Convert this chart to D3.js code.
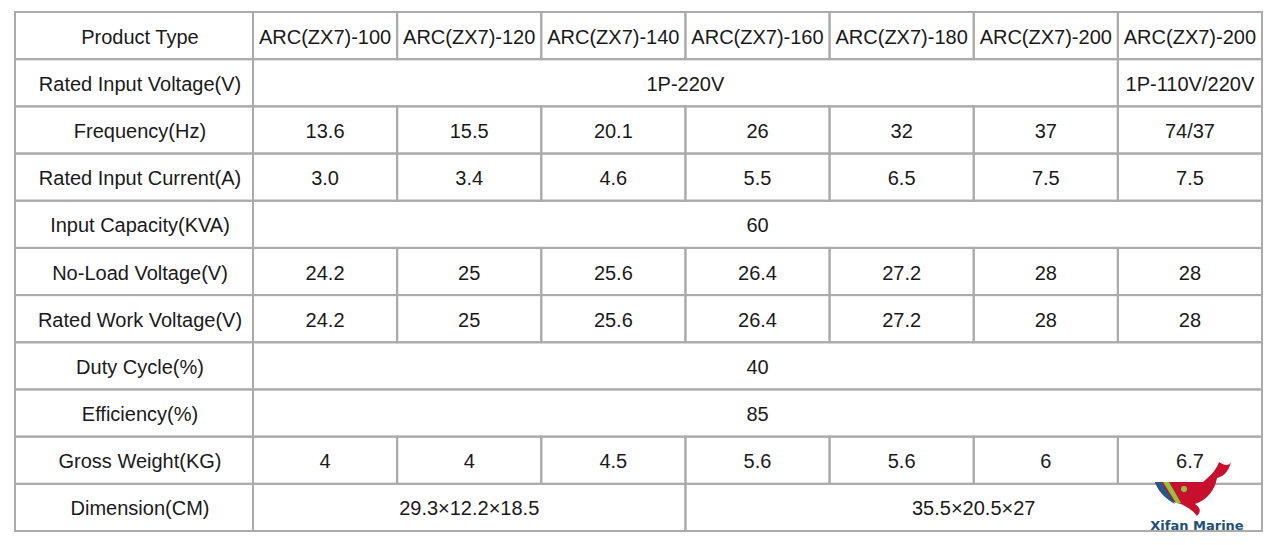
<!DOCTYPE html>
<html><head><meta charset="utf-8">
<script src="https://cdn.jsdelivr.net/npm/d3@7"></script>
<style>body{margin:0;background:#fff}</style></head>
<body><svg id="c" width="1271" height="545"></svg>
<script>
const rowLabels = ["Product Type","Rated Input Voltage(V)","Frequency(Hz)","Rated Input Current(A)","Input Capacity(KVA)","No-Load Voltage(V)","Rated Work Voltage(V)","Duty Cycle(%)","Efficiency(%)","Gross Weight(KG)","Dimension(CM)"];
const models = ["ARC(ZX7)-100","ARC(ZX7)-120","ARC(ZX7)-140","ARC(ZX7)-160","ARC(ZX7)-180","ARC(ZX7)-200","ARC(ZX7)-200"];
const inputVoltage = [["1P-220V",6],["1P-110V/220V",1]];
const frequency = ["13.6","15.5","20.1","26","32","37","74/37"];
const inputCurrent = ["3.0","3.4","4.6","5.5","6.5","7.5","7.5"];
const inputCapacity = [["60",7]];
const noLoadVoltage = ["24.2","25","25.6","26.4","27.2","28","28"];
const workVoltage = ["24.2","25","25.6","26.4","27.2","28","28"];
const dutyCycle = [["40",7]];
const efficiency = [["85",7]];
const grossWeight = ["4","4","4.5","5.6","5.6","6","6.7"];
const dimension = [["29.3×12.2×18.5",3],["35.5×20.5×27",4]];

const one = a => a.map(v=>[v,1]);
const rows = [one(models),inputVoltage,one(frequency),one(inputCurrent),inputCapacity,one(noLoadVoltage),one(workVoltage),dutyCycle,efficiency,one(grossWeight),dimension];

const svg = d3.select("#c");
const y = d3.scaleLinear().domain([0,rowLabels.length]).range([12,531]);
const x = d3.scaleLinear().domain([0,7]).range([253,1262]);
const x0 = 15;
const font = "'Liberation Sans', Arial, sans-serif";
const stroke="#ababab";
const fs=20;

rows.forEach((cells,r)=>{
  const g = svg.append("g");
  g.append("rect").attr("x",x0).attr("y",y(r)).attr("width",x(0)-x0).attr("height",y(r+1)-y(r))
   .attr("fill","none").attr("stroke",stroke).attr("stroke-width",2);
  g.append("text").attr("x",(x0+x(0))/2+6).attr("y",(y(r)+y(r+1))/2+8).attr("text-anchor","middle")
   .attr("font-family",font).attr("font-size",fs).attr("fill","#1a1a1a").text(rowLabels[r]);
  let c=0;
  cells.forEach(([t,s])=>{
    g.append("rect").attr("x",x(c)).attr("y",y(r)).attr("width",x(c+s)-x(c)).attr("height",y(r+1)-y(r))
     .attr("fill","none").attr("stroke",stroke).attr("stroke-width",2);
    g.append("text").attr("x",(x(c)+x(c+s))/2).attr("y",(y(r)+y(r+1))/2+8).attr("text-anchor","middle")
     .attr("font-family",font).attr("font-size",fs).attr("fill","#1a1a1a").text(t);
    c+=s;
  });
});

// logo
const L = svg.append("g").attr("transform","translate(1155,462)");
L.append("path").attr("d","M0,20 L48,20 C58,12 62,6 64,0 C70,4 74,4 76,0 C74,8 70,14 62,16 C60,28 52,38 40,42 C46,46 46,50 42,54 C38,48 30,44 26,42 C14,40 4,32 0,20Z").attr("fill","#c8102e");
L.append("path").attr("d","M0,20 L6,20 L20,42 C12,38 4,30 0,20Z").attr("fill","#1d5c8c");
L.append("path").attr("d","M8,20 L14,20 L26,41 L21,41Z").attr("fill","#8cc63f");
L.append("circle").attr("cx",29).attr("cy",27).attr("r",3).attr("fill","#8cc63f");
L.append("text").attr("x",1197-1155).attr("y",530-462).attr("text-anchor","middle")
 .attr("font-family","'DejaVu Sans', sans-serif").attr("font-weight","bold").attr("font-size",13).attr("fill","#1d4f7a").text("Xifan Marine");
</script></body></html>
